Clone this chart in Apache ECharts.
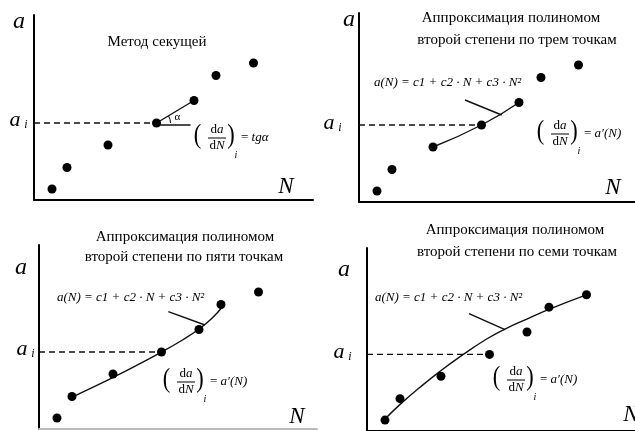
<!DOCTYPE html>
<html>
<head>
<meta charset="utf-8">
<script src="https://cdn.jsdelivr.net/npm/echarts@6/dist/echarts.min.js"></script>
<style>
  html, body { margin: 0; padding: 0; background: #fff; }
  #chart { width: 635px; height: 431px; }
</style>
</head>
<body>
<div id="chart"></div>
<script>
// Measured points a(N) shared by all four panels
const nValues = [1.8, 3.3, 7.4, 12.25, 16.0, 18.2, 21.95];
const aValues = [1.1, 3.25, 5.5, 7.7, 9.95, 12.45, 13.7];
const pointIndex = 3;          // the point i where the derivative is taken

// Quadratic approximation curves, sampled along the drawn fit
const fit5Curve = [[3.27, 3.17], [5.1, 4.03], [7.37, 5.14], [9.43, 6.19], [12.2, 7.66],
                   [14.43, 8.95], [16.0, 10.0], [17.27, 11.05], [18.43, 12.33]];
const fit7Curve = [[1.63, 1.03], [3.23, 2.6], [5.3, 4.4], [7.3, 6.0], [9.63, 7.7], [11.97, 9.25],
                   [13.8, 10.25], [15.87, 11.2], [18.13, 12.2], [21.8, 13.63]];

// Leader lines from the formula to its curve
const leader2 = [[10.6, 10.2], [14.27, 8.7]];
const leader3 = [[12.93, 11.73], [16.6, 10.4]];
const leader4 = [[10.2, 11.8], [13.8, 10.2]];

// Texts
const titles = [
  ['Метод секущей'],
  ['Аппроксимация полиномом', 'второй степени по трем точкам'],
  ['Аппроксимация полиномом', 'второй степени по пяти точкам'],
  ['Аппроксимация полиномом', 'второй степени по семи точкам']
];
const polyFormula = 'a(N) = c1 + c2 · N + c3 · N²';

// Panel boxes (pixels): the plot area of each panel
const panels = [
  { left: 34,  bottom: 200, width: 279, height: 185 },
  { left: 359, bottom: 202, width: 276, height: 189 },
  { left: 39,  bottom: 429, width: 278, height: 184 },
  { left: 367, bottom: 432, width: 268, height: 184 }
];

const SERIF = '"Liberation Serif", "DejaVu Serif", serif';
const INK = '#000';

const points = nValues.map((n, i) => [n, aValues[i]]);
const pi = points[pointIndex];

const grids = [], xAxes = [], yAxes = [], series = [];
panels.forEach((p, k) => {
  grids.push({ left: p.left, top: p.bottom - p.height, width: p.width, height: p.height });
  const axisCommon = {
    type: 'value', gridIndex: k, min: 0,
    axisTick: { show: false }, axisLabel: { show: false }, splitLine: { show: false }
  };
  xAxes.push(Object.assign({}, axisCommon, { max: p.width / 10,
    axisLine: { show: true, onZero: false, lineStyle: { color: k === 2 ? '#bbb' : '#000', width: 2 } } }));
  yAxes.push(Object.assign({}, axisCommon, { max: p.height / 10,
    axisLine: { show: true, onZero: false, lineStyle: { color: '#000', width: 2 } } }));

  // dashed level a_i
  series.push({
    type: 'line', xAxisIndex: k, yAxisIndex: k, symbol: 'none', silent: true,
    data: [[0, pi[1]], [pi[0], pi[1]]],
    lineStyle: { color: '#111', width: 1.3, type: [6, 4] }, z: 2
  });
  series.push({
    type: 'scatter', xAxisIndex: k, yAxisIndex: k, symbolSize: 9,
    data: points, itemStyle: { color: '#000', opacity: 1 }, z: 5
  });
});

const solid = (k, data, smooth) => ({
  type: 'line', xAxisIndex: k, yAxisIndex: k, symbol: 'none', silent: true,
  smooth: smooth || false, data,
  lineStyle: { color: '#111', width: 1.4 }, z: 3
});

// Panel 1: secant through points i and i+1, plus the horizontal reference
series.push(solid(0, [pi, points[pointIndex + 1]]));
series.push(solid(0, [[pi[0], pi[1] - 0.2], [pi[0] + 3.4, pi[1] - 0.2]]));
// Panel 2: parabola through three points
series.push(solid(1, points.slice(pointIndex - 1, pointIndex + 2), 0.5));
series.push(solid(1, leader2));
// Panel 3: five-point fit
series.push(solid(2, fit5Curve, 0.5));
series.push(solid(2, leader3));
// Panel 4: seven-point fit
series.push(solid(3, fit7Curve, 0.5));
series.push(solid(3, leader4));

const chart = echarts.init(document.getElementById('chart'), null, { renderer: 'canvas' });
chart.setOption({
  backgroundColor: '#fff',
  animation: false,
  grid: grids, xAxis: xAxes, yAxis: yAxes, series
});

// ---------- text annotations ----------
function txt(x, y, text, font, align, vAlign, extra) {
  return Object.assign({
    type: 'text', x, y, silent: true, z: 10,
    style: { text, font, fill: INK, align: align || 'center', verticalAlign: vAlign || 'middle',
             textAlign: align || 'center', textVerticalAlign: vAlign || 'middle' }
  }, extra || {});
}
function rich(x, y, text, richDef, align) {
  return {
    type: 'text', x, y, silent: true, z: 10,
    style: { text, rich: richDef, fill: INK, align: align || 'center', verticalAlign: 'middle',
             textAlign: align || 'center', textVerticalAlign: 'middle' }
  };
}
const R = {
  u: { font: '13px ' + SERIF, fill: INK },
  i: { font: 'italic 13px ' + SERIF, fill: INK }
};

// (da/dN)_i = rhs, left edge L, centre line C
function derivative(L, C, rhsItalic) {
  return [
    txt(L + 3.5, C - 1, '(', '28px ' + SERIF, 'center', 'middle', { scaleX: 0.8 }),
    rich(L + 23, C - 7, '{u|d}{i|a}', R),
    { type: 'line', silent: true, z: 10, shape: { x1: L + 14, y1: C + 1, x2: L + 32, y2: C + 1 },
      style: { stroke: INK, lineWidth: 1 } },
    rich(L + 23, C + 9, '{u|d}{i|N}', R),
    txt(L + 37, C - 1, ')', '28px ' + SERIF, 'center', 'middle', { scaleX: 0.8 }),
    txt(L + 42, C + 18, 'i', 'italic 10px ' + SERIF),
    rich(L + 47, C + 1, '{u|= }{i|' + rhsItalic + '}', R, 'left')
  ];
}

function axisNames(aPos, nPos, aiPos) {
  return [
    txt(aPos[0], aPos[1], 'a', 'italic 24px ' + SERIF),
    txt(nPos[0], nPos[1], 'N', 'italic 23px ' + SERIF),
    txt(aiPos[0], aiPos[1], 'a', 'italic 22px ' + SERIF),
    txt(aiPos[0] + 11, aiPos[1] + 5, 'i', 'italic 12px ' + SERIF)
  ];
}
function titleBlock(lines, cx, y0, gap) {
  return lines.map((s, j) => txt(cx[j], y0 + j * gap, s, '15px ' + SERIF));
}

const g = [];
// Panel 1
g.push(...axisNames([19, 22], [286, 187], [15, 120]));
g.push(...titleBlock(titles[0], [157], 42, 0));
g.push(...derivative(194, 137, 'tgα'));
// Panel 2
g.push(...axisNames([349, 20], [613, 188], [329, 123]));
g.push(...titleBlock(titles[1], [511, 517], 18, 22));
g.push(rich(374, 83, '{i|' + polyFormula + '}', R, 'left'));
g.push(...derivative(537, 133, 'a′(N)'));
// Panel 3
g.push(...axisNames([21, 268], [297, 417], [22, 349]));
g.push(...titleBlock(titles[2], [185, 184], 237, 20));
g.push(rich(57, 298, '{i|' + polyFormula + '}', R, 'left'));
g.push(...derivative(163, 381, 'a′(N)'));
// Panel 4
g.push(...axisNames([344, 270], [631, 415], [339, 352]));
g.push(...titleBlock(titles[3], [515, 517], 230, 22));
g.push(rich(375, 298, '{i|' + polyFormula + '}', R, 'left'));
g.push(...derivative(493, 379, 'a′(N)'));

// Angle arc between the horizontal and the secant in panel 1
const c0 = chart.convertToPixel({ gridIndex: 0 }, pi);
const c1 = chart.convertToPixel({ gridIndex: 0 }, points[pointIndex + 1]);
const ang = Math.atan2(c1[1] - c0[1], c1[0] - c0[0]);
g.push({ type: 'arc', silent: true, z: 10,
  shape: { cx: c0[0], cy: c0[1], r: 14, startAngle: ang, endAngle: 0, clockwise: true },
  style: { stroke: INK, lineWidth: 1, fill: null } });
g.push(txt(c0[0] + 21, c0[1] - 6, 'α', '11px ' + SERIF));

chart.setOption({ graphic: { elements: g } });
</script>
</body>
</html>
